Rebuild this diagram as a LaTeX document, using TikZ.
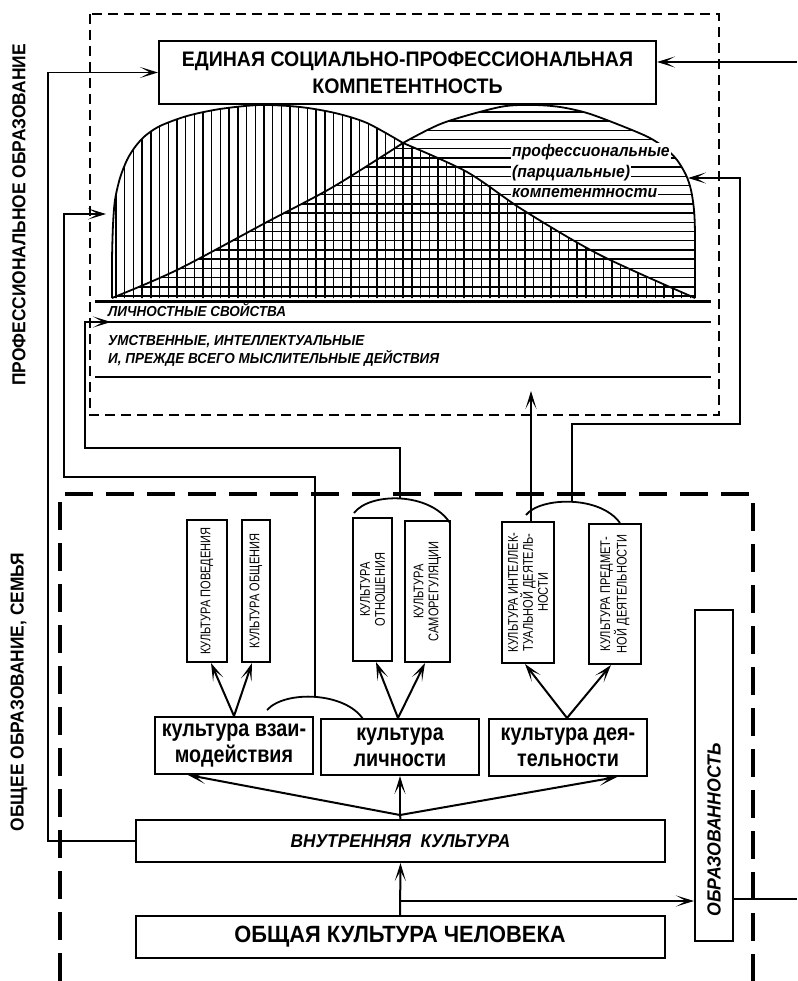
\documentclass[tikz,border=0pt]{standalone}
\usepackage{fontspec}
\setmainfont{Liberation Sans}
\newfontfamily\nar[FakeStretch=0.93]{Liberation Sans}
\newfontfamily\narw[FakeStretch=0.84]{Liberation Sans}
\newfontfamily\sml[FakeStretch=0.79]{Liberation Sans}
\usetikzlibrary{arrows.meta}
\tikzset{
  box/.style={draw, line width=2pt, inner sep=0pt, align=center},
  tip/.style={-{Stealth[length=18pt,width=11pt,inset=10pt]}},
  arr/.style={line width=2pt, tip},
  conn/.style={line width=1.6pt},
  arrc/.style={conn, tip},
  hat/.style={line width=1.4pt},
  outl/.style={line width=1.8pt},
  bigf/.style={font={\nar\bfseries\fontsize{21}{27}\selectfont}},
  midf/.style={font={\narw\bfseries\fontsize{23.5}{26}\selectfont}},
  smlf/.style={font={\sml\fontsize{14}{15}\selectfont}},
  sidef/.style={font={\nar\bfseries\fontsize{18.7}{22}\selectfont}},
  itf/.style={font={\nar\bfseries\itshape\fontsize{14.5}{18}\selectfont}, inner sep=0pt},
  prf/.style={font={\nar\bfseries\itshape\fontsize{16.9}{20}\selectfont}, fill=white, inner sep=1pt},
}
\begin{document}
\begin{tikzpicture}[x=1pt,y=-1pt]
\useasboundingbox (0,0) rectangle (797,981);

% dashed frames
\draw[line width=2.2pt, dash pattern=on 10pt off 6pt] (90,14) rectangle (719,415);
\draw[line width=3.5pt, dash pattern=on 28pt off 13pt] (60,981) -- (60,494) -- (753,494) -- (753,981);

% hatching
\begin{scope}
\clip plot[smooth] coordinates {(112,298) (112,260) (113,225) (115,200) (120,178) (127,160) (135,147) (145,136) (160,126) (187,116) (220,109) (260,105) (300,107) (335,113) (367,123) (403,143)}
  -- plot[smooth] coordinates {(403,143) (467,172) (523,210) (600,255) (695,298)} -- cycle;
\foreach \i in {0,...,68} \draw[hat] ({116+\i*8.7},95) -- ({116+\i*8.7},300);
\end{scope}
\begin{scope}
\clip plot[smooth] coordinates {(112,298) (177,270) (267,222) (333,187) (403,143)}
  -- plot[smooth] coordinates {(403,143) (443,123) (500,107) (533,105) (560,107) (587,113) (617,124) (648,137) (665,148) (677,160) (686,175) (691,190) (694,210) (695,235) (695,298)} -- cycle;
\foreach \i in {0,...,21} \draw[hat] (100,{296-\i*9.2}) -- (720,{296-\i*9.2});
\end{scope}
\draw[outl] plot[smooth] coordinates {(112,298) (112,260) (113,225) (115,200) (120,178) (127,160) (135,147) (145,136) (160,126) (187,116) (220,109) (260,105) (300,107) (335,113) (367,123) (403,143)};
\draw[outl] plot[smooth] coordinates {(403,143) (443,123) (500,107) (533,105) (560,107) (587,113) (617,124) (648,137) (665,148) (677,160) (686,175) (691,190) (694,210) (695,235) (695,298)};
\draw[outl] plot[smooth] coordinates {(112,298) (177,270) (267,222) (333,187) (403,143)};
\draw[outl] plot[smooth] coordinates {(403,143) (467,172) (523,210) (600,255) (695,298)};

\node[prf, anchor=base west] (p1) at (511,156.5) {профессиональные};
\node[prf, anchor=base west] (p2) at (511,177.5) {(парциальные)};
\node[prf, anchor=base west] (p3) at (511,197.5) {компетентности};

% horizontal layers
\draw[line width=3pt] (95,301.5) -- (711,301.5);
\draw[line width=2pt] (93,322) -- (711,322);
\draw[line width=2pt] (95,377) -- (711,377);
\node[itf, anchor=base west] (lp) at (108,316) {ЛИЧНОСТНЫЕ СВОЙСТВА};
\node[itf, anchor=base west] (um1) at (108,345) {УМСТВЕННЫЕ, ИНТЕЛЛЕКТУАЛЬНЫЕ};
\node[itf, anchor=base west] (um2) at (108,363) {И, ПРЕЖДЕ ВСЕГО МЫСЛИТЕЛЬНЫЕ ДЕЙСТВИЯ};

% side labels
\node[sidef, rotate=90] (pe) at (19,215) {ПРОФЕССИОНАЛЬНОЕ ОБРАЗОВАНИЕ};
\node[sidef, rotate=90] (ge) at (19,692) {ОБЩЕЕ ОБРАЗОВАНИЕ, СЕМЬЯ};

% boxes
\node[box, bigf, minimum width=497pt, minimum height=63pt] (title) at (407.5,72.5) {ЕДИНАЯ СОЦИАЛЬНО-ПРОФЕССИОНАЛЬНАЯ\\КОМПЕТЕНТНОСТЬ};

\node[box, smlf, rotate=90, minimum width=142pt, minimum height=40pt] (pov) at (207,591) {КУЛЬТУРА ПОВЕДЕНИЯ};
\node[box, smlf, rotate=90, minimum width=142pt, minimum height=28pt] (obs) at (256,591) {КУЛЬТУРА ОБЩЕНИЯ};
\node[box, smlf, rotate=90, minimum width=143pt, minimum height=39pt] (otn) at (372.5,589.5) {КУЛЬТУРА\\ОТНОШЕНИЯ};
\node[box, smlf, rotate=90, minimum width=141pt, minimum height=45pt] (sam) at (427.5,591.5) {КУЛЬТУРА\\САМОРЕГУЛЯЦИИ};
\node[box, smlf, rotate=90, minimum width=141pt, minimum height=52pt] (int) at (528,592.5) {КУЛЬТУРА ИНТЕЛЛЕК-\\ТУАЛЬНОЙ ДЕЯТЕЛЬ-\\НОСТИ};
\node[box, smlf, rotate=90, minimum width=140pt, minimum height=52pt] (pre) at (615,594) {КУЛЬТУРА ПРЕДМЕТ-\\НОЙ ДЕЯТЕЛЬНОСТИ};

\node[box, midf, minimum width=158pt, minimum height=57pt] (vz) at (234,745.5) {культура взаи-\\модействия};
\node[box, midf, minimum width=158pt, minimum height=56pt] (li) at (400,747) {культура\\личности};
\node[box, midf, minimum width=158pt, minimum height=57pt] (de) at (568,747.5) {культура дея-\\тельности};

\node[box, font={\nar\bfseries\itshape\fontsize{18.6}{22}\selectfont}, minimum width=529pt, minimum height=42pt] (vnutr) at (400.5,841) {ВНУТРЕННЯЯ\ \ КУЛЬТУРА};
\node[box, font={\nar\bfseries\fontsize{23.5}{26}\selectfont}, minimum width=529pt, minimum height=42pt] (obsh) at (400,937) {ОБЩАЯ КУЛЬТУРА ЧЕЛОВЕКА};

\node[box, rotate=90, minimum width=331pt, minimum height=38pt] (obraz) at (714,775.5) {};
\node[rotate=90, font={\nar\bfseries\itshape\fontsize{19}{22}\selectfont}] (obrazt) at (714,830) {ОБРАЗОВАННОСТЬ};

% arcs
\draw[outl] (267,710) .. controls (285,690) and (345,692) .. (363,719);
\draw[outl] (354,513) .. controls (370,492) and (430,492) .. (450,523);
\draw[outl] (526,515) .. controls (540,497) and (600,495) .. (620,523);

% coordinates
\coordinate (dl) at (106,214);
\coordinate (a1) at (315,696);
\coordinate (ls) at (111,322);
\coordinate (a2) at (400,498);
\coordinate (pk) at (688,178);
\coordinate (a3) at (572,502);
\coordinate (up) at (531,391);
\coordinate (r1) at (797,62);
\coordinate (j) at (400,901);
\coordinate (rr) at (797,899);
\coordinate (fo) at (400,815);

% connectors
\draw[arrc] (vnutr.west) -- ++(-87,0) |- (title.west);
\draw[arrc] (a1) -- (315,477) -- (64,477) -- (64,214) -- (dl);
\draw[arrc] (a2) -- (400,448) -- (85,448) -- (85,322) -- (ls);
\draw[arrc] (a3) -- (572,424) -- (740,424) -- (740,178) -- (pk);
\draw[arr] ([xshift=3pt]int.east) -- (up);
\draw[arrc] (r1) -- (title.east |- r1);

\draw[line width=2pt] (vnutr.north) -- (fo);
\draw[arr] (fo) -- ([xshift=-46pt]vz.south);
\draw[arr] (fo) -- (li.south);
\draw[arr] (fo) -- ([xshift=49pt]de.south);

\draw[arr] (vz.north) -- ([xshift=4pt]pov.west);
\draw[arr] (vz.north) -- ([xshift=-4pt]obs.west);
\draw[arr] ([xshift=-2pt]li.north) -- ([xshift=3.5pt]otn.west);
\draw[arr] ([xshift=-2pt]li.north) -- ([xshift=-2.5pt]sam.west);
\draw[arr] ([xshift=-1pt]de.north) -- ([xshift=-3pt]int.west);
\draw[arr] ([xshift=-1pt]de.north) -- ([xshift=-4pt]pre.west);

\draw[arr] (obsh.north) -- (vnutr.south);
\draw[arr] (j) -- (obraz.north |- j);
\draw[conn] (obraz.south |- rr) -- (rr);
\end{tikzpicture}
\end{document}
